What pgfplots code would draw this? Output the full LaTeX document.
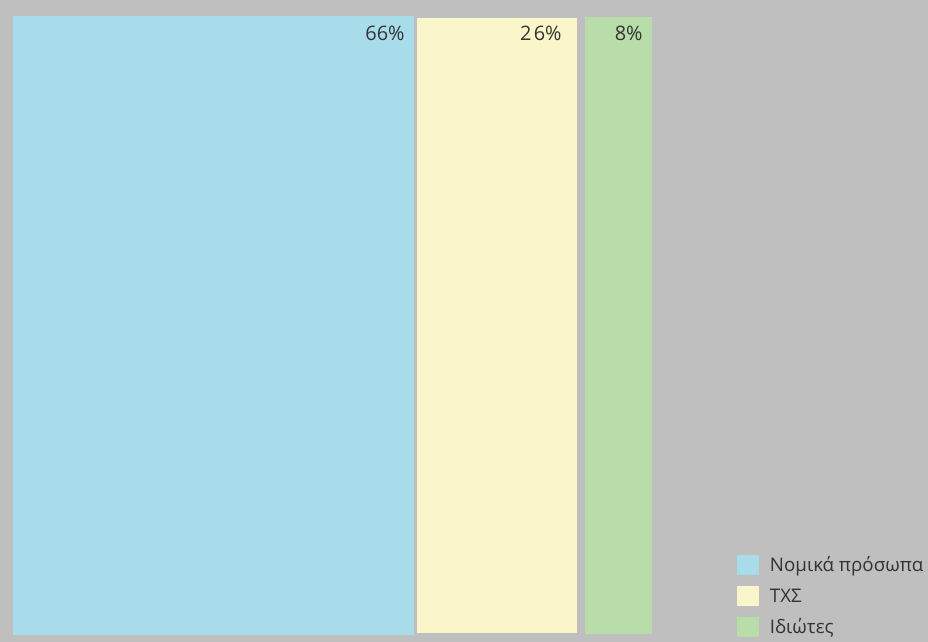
\documentclass[border=0pt]{standalone}
\usepackage{pgfplots}
\pgfplotsset{compat=1.18}
\usepackage{fontspec}
\setmainfont{Open Sans}
\definecolor{bggray}{HTML}{BFBFBF}
\definecolor{cblue}{HTML}{A9DCEB}
\definecolor{cyellow}{HTML}{FBF6C9}
\definecolor{cgreen}{HTML}{B9DDA9}
\definecolor{txt}{HTML}{333333}
\newcommand{\legtext}[1]{\hspace{5.5bp}\raisebox{-3bp}{#1}}
\begin{document}
\begin{tikzpicture}
\fill[bggray] (0,0) rectangle (464bp,321bp);
\useasboundingbox (0,0) rectangle (464bp,321bp);
\begin{axis}[
  at={(0,0)}, anchor=origin,
  x=0.5bp, y=0.5bp,
  xmin=0, xmax=928, ymin=0, ymax=642,
  hide axis,
  clip=false,
  legend style={at={(axis cs:737,87)}, anchor=north west, draw=none, fill=none,
    font=\fontsize{9.4}{11}\selectfont\color{txt}, row sep=5.5bp,
    inner sep=0pt, outer sep=0pt,
    nodes={inner sep=0pt, text height=5bp, text depth=5bp}},
  legend cell align=left,
  legend image code/.code={\fill[#1,draw=none] (0bp,-5bp) rectangle (11bp,5bp);},
]
% widths proportional to shares 66 / 26 / 8 (as drawn)
\addplot[fill=cblue, draw=none] coordinates {(13,7) (414,7) (414,626) (13,626)} --cycle;
\addlegendentry{\legtext{Νομικά πρόσωπα}}
\addplot[fill=cyellow, draw=none] coordinates {(417,9) (577,9) (577,624) (417,624)} --cycle;
\addlegendentry{\legtext{ΤΧΣ}}
\addplot[fill=cgreen, draw=none] coordinates {(585,8) (652,8) (652,625) (585,625)} --cycle;
\addlegendentry{\legtext{Ιδιώτες}}
\node[anchor=east, text=txt, font=\fontsize{10}{12}\selectfont, inner sep=0pt] at (axis cs:405,609) {66\%};
\node[anchor=east, text=txt, font=\fontsize{10}{12}\selectfont, inner sep=0pt] at (axis cs:562,609) {2\kern1.2bp6\%};
\node[anchor=east, text=txt, font=\fontsize{10}{12}\selectfont, inner sep=0pt] at (axis cs:643,609) {8\%};
\end{axis}
\end{tikzpicture}
\end{document}
